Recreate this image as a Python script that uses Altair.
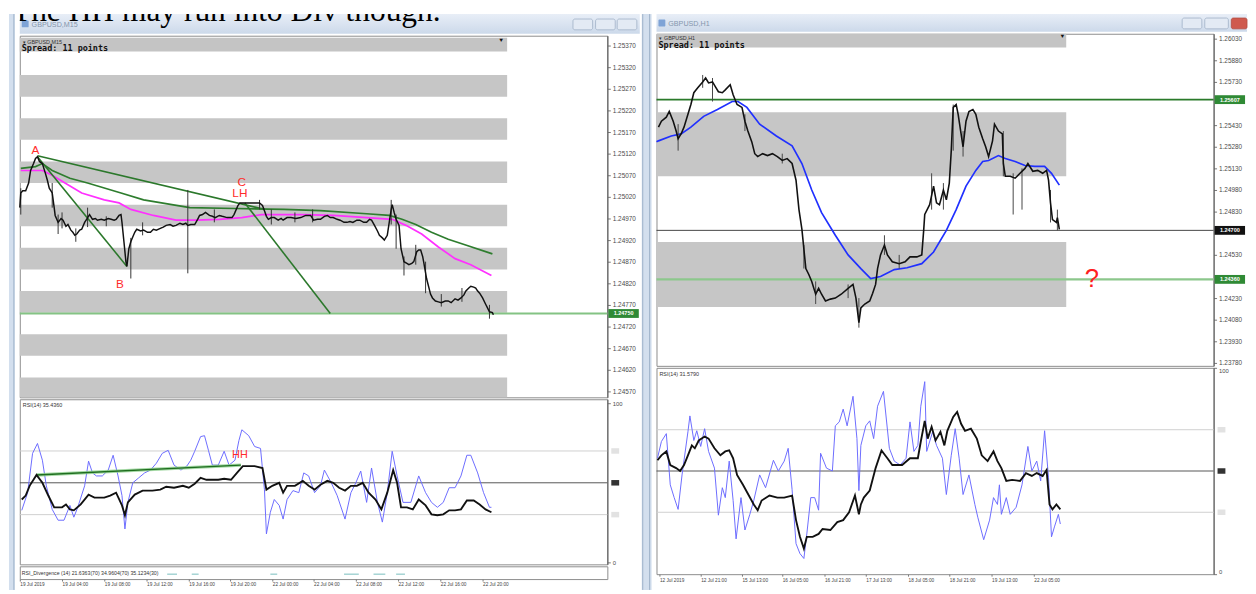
import json
import altair as alt
import pandas as pd

# ---------------------------------------------------------------- data
HEADING = "The HH may run into Div though."
LEFT_TITLE = "GBPUSD,M15"
RIGHT_TITLE = "GBPUSD,H1"
LEFT_SYMBOL = "\u25be GBPUSD,M15"
RIGHT_SYMBOL = "\u25be GBPUSD,H1"
SPREAD = "Spread: 11 points"
LEFT_RSI_NAME = "RSI(14) 35.4360"
RIGHT_RSI_NAME = "RSI(14) 31.5790"
IND_NAME = "RSI_Divergence (14) 21.6363(70) 34.9604(70) 35.1234(30)"

left_dates = ["19 Jul 2019", "19 Jul 04:00", "19 Jul 08:00", "19 Jul 12:00", "19 Jul 16:00",
              "19 Jul 20:00", "22 Jul 00:00", "22 Jul 04:00", "22 Jul 08:00", "22 Jul 12:00",
              "22 Jul 16:00", "22 Jul 20:00"]
left_date_bars = [0, 43, 86, 129, 172, 214, 257, 299, 342, 385, 428, 471]
right_dates = ["12 Jul 2019", "12 Jul 21:00", "15 Jul 13:00", "16 Jul 05:00", "16 Jul 21:00",
               "17 Jul 13:00", "18 Jul 05:00", "18 Jul 21:00", "19 Jul 13:00", "22 Jul 05:00"]
right_date_bars = [3, 45, 87, 128, 171, 213, 256, 298, 341, 384]

left_price_ticks = [1.25370, 1.25320, 1.25270, 1.25220, 1.25170, 1.25120, 1.25070, 1.25020,
                    1.24970, 1.24920, 1.24870, 1.24820, 1.24770, 1.24720, 1.24670, 1.24620, 1.24570]
# ticks hidden behind the coloured price boxes are left out
right_price_ticks = [1.26030, 1.25880, 1.25730, 1.25430, 1.25280, 1.25130, 1.24980,
                     1.24830, 1.24530, 1.24230, 1.24080, 1.23930, 1.23780]
rsi_ticks = [0, 100]
rsi_levels_light = [30, 70]
rsi_level_mid = [50]

# left M15 close path (bar index, price)
left_close = [(0, 1.24995), (1, 1.25029), (3, 1.25034), (6, 1.25034), (9, 1.25052), (11, 1.25081),
              (14, 1.25097), (16, 1.25109), (18, 1.25113), (20, 1.25102), (23, 1.25097), (26, 1.25075),
              (28, 1.25059), (30, 1.25040), (33, 1.25029), (35, 1.24995), (36, 1.24977), (39, 1.24961),
              (42, 1.24970), (44, 1.24966), (47, 1.24952), (49, 1.24956), (52, 1.24943), (54, 1.24938),
              (56, 1.24931), (58, 1.24934), (61, 1.24943), (63, 1.24945), (66, 1.24961), (68, 1.24968),
              (71, 1.24979), (74, 1.24968), (77, 1.24970), (79, 1.24966), (83, 1.24968), (86, 1.24966),
              (90, 1.24970), (93, 1.24968), (96, 1.24966), (98, 1.24968), (101, 1.24977), (103, 1.24979),
              (104, 1.24961), (106, 1.24916), (108, 1.24870), (109, 1.24859), (111, 1.24900), (113, 1.24916),
              (114, 1.24922), (117, 1.24938), (119, 1.24945), (123, 1.24941), (126, 1.24943), (130, 1.24938),
              (133, 1.24938), (136, 1.24945), (139, 1.24943), (143, 1.24947), (146, 1.24950), (149, 1.24954),
              (153, 1.24956), (156, 1.24952), (159, 1.24954), (163, 1.24959), (166, 1.24956), (169, 1.24959),
              (171, 1.24954), (174, 1.24956), (178, 1.24956), (181, 1.24968), (183, 1.24977), (186, 1.24979),
              (189, 1.24984), (193, 1.24977), (196, 1.24975), (199, 1.24972), (203, 1.24977), (206, 1.24975),
              (211, 1.24972), (216, 1.24972), (218, 1.24979), (219, 1.24984), (222, 1.25000), (224, 1.25006),
              (229, 1.25006), (236, 1.25006), (244, 1.25006), (247, 1.25000), (249, 1.24988), (251, 1.24975),
              (253, 1.24968), (256, 1.24972), (259, 1.24972), (263, 1.24966), (266, 1.24970), (268, 1.24966),
              (272, 1.24972), (276, 1.24972), (281, 1.24970), (286, 1.24972), (291, 1.24977), (296, 1.24977),
              (299, 1.24966), (303, 1.24968), (306, 1.24968), (310, 1.24975), (313, 1.24977), (316, 1.24972),
              (319, 1.24972), (323, 1.24968), (326, 1.24966), (330, 1.24961), (333, 1.24961), (336, 1.24963),
              (339, 1.24961), (343, 1.24966), (346, 1.24966), (350, 1.24961), (353, 1.24961), (356, 1.24968),
              (358, 1.24966), (361, 1.24954), (364, 1.24941), (366, 1.24931), (369, 1.24925), (371, 1.24920),
              (374, 1.24931), (376, 1.24961), (378, 1.24991), (379, 1.25002), (381, 1.24984), (383, 1.24968),
              (386, 1.24954), (388, 1.24900), (391, 1.24870), (394, 1.24866), (396, 1.24863), (399, 1.24866),
              (401, 1.24870), (404, 1.24893), (406, 1.24897), (408, 1.24897), (410, 1.24882), (411, 1.24870),
              (414, 1.24831), (416, 1.24813), (418, 1.24795), (420, 1.24786), (423, 1.24779), (426, 1.24777),
              (429, 1.24775), (433, 1.24779), (436, 1.24779), (439, 1.24775), (443, 1.24784), (446, 1.24781),
              (449, 1.24786), (452, 1.24793), (454, 1.24802), (457, 1.24809), (459, 1.24813), (462, 1.24811),
              (464, 1.24809), (466, 1.24802), (468, 1.24797), (471, 1.24786), (474, 1.24772), (476, 1.24763),
              (478, 1.24754), (481, 1.24752), (482, 1.24747)]

left_wicks = [(1, 1.25040, 1.24979), (33, 1.25052, 1.24995), (39, 1.24979, 1.24934), (43, 1.24984, 1.24947),
              (57, 1.24947, 1.24916), (69, 1.24995, 1.24950), (88, 1.24975, 1.24952), (113, 1.24925, 1.24831),
              (125, 1.24961, 1.24931), (171, 1.25036, 1.24843), (198, 1.24991, 1.24961), (244, 1.25013, 1.24991),
              (256, 1.24991, 1.24956), (280, 1.24984, 1.24961), (298, 1.24991, 1.24961), (378, 1.25013, 1.24956),
              (383, 1.24979, 1.24900), (391, 1.24882, 1.24838), (403, 1.24909, 1.24863), (413, 1.24870, 1.24797),
              (429, 1.24795, 1.24766), (450, 1.24809, 1.24777), (478, 1.24770, 1.24738)]

left_ma_green = [(1, 1.25086), (16, 1.25090), (23, 1.25097), (33, 1.25081), (51, 1.25063), (69, 1.25052),
                 (103, 1.25029), (126, 1.25013), (173, 1.24995), (219, 1.24993), (269, 1.24991), (306, 1.24988),
                 (353, 1.24981), (376, 1.24977), (389, 1.24968), (403, 1.24956), (419, 1.24938), (436, 1.24922),
                 (453, 1.24909), (481, 1.24888)]
left_ma_magenta = [(1, 1.25081), (23, 1.25081), (33, 1.25070), (46, 1.25052), (63, 1.25029), (86, 1.25013),
                   (101, 1.25006), (113, 1.24991), (136, 1.24977), (159, 1.24966), (179, 1.24966), (203, 1.24968),
                   (226, 1.24972), (246, 1.24979), (269, 1.24979), (286, 1.24979), (319, 1.24977), (353, 1.24972),
                   (379, 1.24968), (393, 1.24954), (409, 1.24934), (426, 1.24904), (443, 1.24877), (459, 1.24863),
                   (480, 1.24838)]
left_trendlines = [("AB", 18, 1.25113), ("AB", 109, 1.24859),
                   ("AC", 18, 1.25115), ("AC", 249, 1.24991),
                   ("C_down", 229, 1.25006), ("C_down", 316, 1.24750)]
left_level = [1.24750]
left_level_label = ["1.24750"]
left_band_top = [1.25302, 1.25202, 1.25102, 1.25002, 1.24902, 1.24802, 1.24702, 1.24602]
left_band_bottom = [1.25252, 1.25152, 1.25052, 1.24952, 1.24852, 1.24752, 1.24652, 1.24556]
left_band_bars = [0, 496]
left_points = [("A", 16, 1.25129), ("B", 102, 1.24818), ("C", 226, 1.25054), ("LH", 224, 1.25029)]

left_rsi = [(2, 39.5), (6, 42.0), (10, 48.1), (17, 54.9), (23, 50.0), (29, 42.0), (35, 34.6), (43, 34.6),
            (47, 36.4), (51, 33.3), (55, 32.7), (62, 36.4), (70, 42.6), (76, 40.7), (86, 40.7), (92, 42.0),
            (98, 43.8), (104, 35.8), (107, 29.6), (110, 37.7), (117, 42.6), (125, 45.1), (135, 45.1),
            (143, 45.7), (149, 47.5), (157, 46.9), (166, 48.1), (172, 46.9), (178, 49.4), (184, 53.1),
            (190, 51.9), (196, 51.9), (202, 51.9), (208, 52.5), (215, 51.9), (221, 56.2), (227, 60.5),
            (239, 60.5), (247, 59.3), (251, 45.7), (257, 48.1), (264, 50.0), (268, 43.8), (272, 48.1),
            (280, 48.1), (288, 51.2), (294, 48.1), (300, 45.7), (306, 48.8), (313, 51.2), (319, 50.0),
            (325, 46.9), (331, 45.1), (337, 48.1), (343, 48.1), (349, 50.0), (355, 43.8), (362, 39.5),
            (368, 33.3), (374, 43.8), (380, 58.0), (384, 50.0), (388, 34.6), (394, 34.6), (400, 33.3),
            (406, 39.5), (413, 35.8), (419, 30.2), (425, 29.6), (431, 30.2), (437, 32.7), (443, 32.7),
            (449, 33.3), (455, 38.9), (462, 38.9), (468, 36.4), (474, 33.3), (480, 31.5)]
left_rsi_fast = [(2, 32.7), (8, 43.8), (13, 68.5), (18, 74.7), (23, 64.2), (27, 48.1), (33, 33.3), (39, 26.5),
                 (45, 26.5), (51, 35.8), (55, 28.4), (59, 34.6), (66, 48.1), (70, 63.6), (74, 56.2), (78, 54.3),
                 (84, 54.3), (90, 58.0), (95, 67.3), (100, 54.3), (104, 42.0), (107, 21.0), (110, 37.7),
                 (115, 50.0), (121, 53.1), (127, 56.2), (133, 58.0), (139, 62.3), (145, 68.5), (151, 70.4),
                 (157, 61.1), (164, 58.0), (170, 60.5), (174, 64.2), (178, 69.8), (184, 79.0), (188, 79.6),
                 (192, 70.4), (196, 61.1), (202, 61.1), (208, 69.8), (213, 61.1), (219, 64.2), (223, 76.5),
                 (226, 83.3), (233, 79.6), (239, 72.8), (245, 71.6), (249, 45.7), (251, 17.9), (255, 31.5),
                 (259, 39.5), (264, 35.8), (268, 27.2), (272, 39.5), (278, 45.1), (284, 43.8), (289, 56.2),
                 (294, 54.3), (300, 43.8), (306, 48.1), (310, 58.0), (317, 50.0), (323, 42.0), (331, 27.2),
                 (337, 43.8), (342, 50.0), (347, 57.4), (353, 37.7), (358, 59.3), (364, 37.7), (369, 25.3),
                 (374, 43.8), (379, 69.8), (384, 54.3), (390, 37.7), (398, 37.7), (406, 54.3), (413, 43.8),
                 (419, 37.7), (425, 34.6), (431, 37.7), (437, 46.9), (443, 46.9), (449, 54.3), (455, 67.3),
                 (459, 67.3), (466, 56.2), (472, 43.8), (478, 34.6), (480, 34.6)]
left_hh_line = [(17, 54.9), (225, 61.1)]
left_hh_label = [("HH", 224, 67.3)]
left_ind_segments = [(150, 160), (175, 182), (255, 262), (330, 345), (360, 372), (383, 392)]

# right H1
right_close = [(2, 1.25416), (5, 1.25457), (10, 1.25485), (13, 1.25525), (17, 1.25457), (20, 1.25389),
               (22, 1.25335), (25, 1.25369), (28, 1.25416), (32, 1.25505), (35, 1.25573), (38, 1.25655),
               (42, 1.25689), (47, 1.25730), (50, 1.25757), (53, 1.25723), (57, 1.25730), (60, 1.25696),
               (63, 1.25662), (67, 1.25655), (70, 1.25675), (75, 1.25710), (78, 1.25641), (82, 1.25573),
               (87, 1.25553), (90, 1.25457), (93, 1.25389), (97, 1.25314), (100, 1.25232), (103, 1.25212),
               (108, 1.25232), (113, 1.25219), (118, 1.25232), (123, 1.25212), (128, 1.25185), (133, 1.25198),
               (138, 1.25164), (142, 1.25048), (145, 1.24844), (148, 1.24707), (150, 1.24571), (152, 1.24435),
               (155, 1.24394), (158, 1.24346), (162, 1.24257), (165, 1.24298), (168, 1.24257), (172, 1.24210),
               (177, 1.24223), (182, 1.24230), (188, 1.24257), (195, 1.24298), (200, 1.24325), (203, 1.24230),
               (206, 1.24060), (208, 1.24162), (212, 1.24189), (217, 1.24210), (220, 1.24264), (223, 1.24325),
               (225, 1.24435), (228, 1.24530), (232, 1.24598), (235, 1.24530), (240, 1.24482), (247, 1.24469),
               (253, 1.24482), (258, 1.24516), (265, 1.24516), (270, 1.24530), (272, 1.24707), (273, 1.24810),
               (278, 1.24878), (282, 1.25007), (285, 1.24891), (288, 1.24878), (292, 1.24980), (295, 1.24912),
               (298, 1.25028), (300, 1.25253), (302, 1.25553), (305, 1.25573), (307, 1.25505), (310, 1.25369),
               (312, 1.25280), (315, 1.25457), (318, 1.25525), (322, 1.25539), (325, 1.25505), (328, 1.25416),
               (332, 1.25335), (335, 1.25280), (338, 1.25212), (342, 1.25321), (344, 1.25437), (348, 1.25389),
               (352, 1.25369), (353, 1.25164), (355, 1.25075), (360, 1.25075), (365, 1.25062), (370, 1.25096),
               (375, 1.25130), (378, 1.25164), (383, 1.25110), (388, 1.25116), (393, 1.25096), (397, 1.25116),
               (399, 1.25048), (401, 1.24891), (403, 1.24775), (407, 1.24755), (408, 1.24789), (410, 1.24707)]
right_wicks = [(22, 1.25437, 1.25253), (47, 1.25778, 1.25689), (57, 1.25757, 1.25594), (90, 1.25505, 1.25389),
               (128, 1.25232, 1.25164), (150, 1.24598, 1.24435), (162, 1.24346, 1.24189), (195, 1.24325, 1.24230),
               (206, 1.24230, 1.24025), (232, 1.24666, 1.24530), (247, 1.24530, 1.24435), (280, 1.25096, 1.24844),
               (292, 1.25028, 1.24844), (302, 1.25573, 1.25253), (312, 1.25389, 1.25212), (353, 1.25389, 1.25075),
               (363, 1.25096, 1.24810), (372, 1.25130, 1.24844), (401, 1.24980, 1.24755), (408, 1.24844, 1.24700)]
right_ma_blue = [(0, 1.25314), (2, 1.25321), (15, 1.25355), (25, 1.25369), (35, 1.25416), (48, 1.25491),
                 (62, 1.25539), (77, 1.25594), (83, 1.25594), (92, 1.25553), (105, 1.25437), (122, 1.25355),
                 (138, 1.25287), (148, 1.25164), (158, 1.24980), (168, 1.24823), (182, 1.24666), (195, 1.24530),
                 (208, 1.24435), (218, 1.24366), (228, 1.24380), (242, 1.24428), (255, 1.24441), (270, 1.24469),
                 (282, 1.24550), (295, 1.24700), (305, 1.24844), (315, 1.25007), (325, 1.25116), (332, 1.25178),
                 (338, 1.25185), (348, 1.25219), (355, 1.25198), (365, 1.25178), (375, 1.25150), (385, 1.25144),
                 (395, 1.25144), (402, 1.25096), (410, 1.25014)]
right_band_top = [1.25519, 1.24619]
right_band_bottom = [1.25075, 1.24169]
right_band_bars = [0, 417]
right_resistance = [1.25607]
right_current = [1.24700]
right_support = [1.24360]
right_box_prices = [1.25607, 1.24700, 1.24360]
right_box_labels = ["1.25607", "1.24700", "1.24360"]
right_box_kind = ["green", "black", "green"]
right_question = [("?", 443, 1.24360)]

right_rsi = [(1, 55.2), (5, 57.6), (10, 59.5), (14, 52.9), (20, 51.4), (24, 50.0), (28, 52.9), (32, 57.6),
             (36, 62.4), (39, 61.0), (43, 64.8), (49, 66.7), (53, 65.7), (59, 61.0), (65, 57.6), (70, 59.5),
             (74, 60.0), (78, 56.2), (82, 48.1), (88, 43.3), (94, 38.1), (99, 33.8), (103, 31.0), (107, 35.7),
             (115, 38.1), (123, 37.1), (130, 37.1), (138, 38.1), (142, 26.2), (146, 18.1), (150, 12.4),
             (153, 18.1), (159, 18.1), (165, 19.5), (169, 21.9), (177, 21.4), (184, 25.2), (190, 26.2),
             (196, 30.0), (202, 38.1), (206, 29.0), (208, 33.8), (211, 37.1), (217, 40.5), (223, 51.4),
             (229, 60.0), (235, 56.2), (240, 52.9), (250, 52.9), (258, 56.2), (266, 56.2), (269, 64.3),
             (273, 74.3), (276, 65.7), (280, 71.4), (284, 64.8), (289, 69.0), (293, 62.4), (296, 69.5),
             (302, 76.2), (306, 78.6), (310, 72.9), (314, 69.5), (320, 70.5), (326, 65.7), (331, 57.6),
             (337, 54.8), (343, 59.5), (347, 54.8), (351, 51.4), (356, 45.2), (362, 45.7), (370, 45.2),
             (376, 49.0), (382, 47.6), (387, 49.0), (393, 47.6), (397, 50.5), (400, 33.8), (403, 31.4),
             (407, 33.8), (411, 31.4)]
right_rsi_fast = [(1, 56.2), (5, 64.3), (10, 68.1), (14, 43.3), (18, 37.1), (22, 31.4), (26, 48.1), (32, 69.0),
                  (34, 76.7), (38, 64.8), (41, 69.5), (45, 61.9), (49, 70.5), (53, 59.5), (59, 51.4), (63, 28.6),
                  (67, 41.9), (70, 37.1), (74, 54.8), (78, 35.7), (81, 17.1), (86, 37.1), (90, 21.4), (95, 29.0),
                  (99, 35.7), (105, 48.1), (111, 41.9), (119, 55.2), (124, 50.0), (130, 54.8), (134, 61.0),
                  (138, 41.0), (142, 14.8), (146, 10.0), (150, 7.6), (153, 19.5), (157, 37.1), (161, 37.1),
                  (165, 31.0), (167, 58.6), (173, 51.4), (179, 50.0), (182, 71.9), (186, 73.8), (190, 80.0),
                  (194, 71.9), (200, 86.2), (204, 65.7), (206, 40.5), (208, 62.4), (213, 71.9), (217, 74.3),
                  (221, 65.7), (225, 81.4), (231, 88.6), (237, 61.0), (242, 54.8), (248, 52.9), (254, 56.2),
                  (258, 73.8), (262, 59.5), (266, 62.4), (269, 81.4), (273, 93.3), (275, 59.5), (281, 69.0),
                  (285, 62.4), (291, 56.2), (295, 38.6), (300, 57.6), (304, 70.5), (308, 56.2), (312, 38.6),
                  (318, 48.1), (324, 33.8), (327, 27.6), (333, 16.7), (339, 26.2), (343, 37.1), (347, 33.8),
                  (349, 43.3), (351, 29.0), (356, 37.1), (360, 29.0), (366, 32.4), (372, 43.3), (378, 61.9),
                  (382, 50.0), (387, 54.8), (391, 45.2), (395, 69.5), (399, 46.7), (402, 18.1), (405, 22.9),
                  (409, 29.0), (411, 24.3)]

# ---------------------------------------------------------------- layout / style
LW, RW = 598, 567
LP_H, LR_H, LI_H, LT_H = 368, 168, 13, 20
RP_H, RR_H, RT_H = 338, 210, 18
FRAME_H = 586
PANE_STROKE = "#8c8c8c"
FRAME_FILL = "#d3dfee"
FRAME_LINE = "#9cb0c8"
LABEL_FONT = "Liberation Sans"
BOX_WIDE = "M-1,-0.29H1V0.29H-1Z"
BOX_SMALL = "M-1,-0.7H1V0.7H-1Z"
title_gradient = alt.LinearGradient(gradient="linear",
                                    stops=[alt.GradientStop(color="#e8eef7", offset=0),
                                           alt.GradientStop(color="#ccd9ea", offset=1)],
                                    x1=0, x2=0, y1=0, y2=1)


def price_axis(ticks):
    return alt.Axis(orient="right", values=ticks, format=".5f", labelFontSize=6.5, labelFont=LABEL_FONT,
                    labelColor="#4a4a4a", tickSize=3, tickColor="#777777", domainColor="#555555",
                    grid=False, title=None, labelPadding=2, labelOverlap=False, labelFlush=False)


def rsi_axis():
    return alt.Axis(orient="right", values=rsi_ticks, format="d", labelFontSize=6, labelFont=LABEL_FONT,
                    labelColor="#4a4a4a", tickSize=3, tickColor="#777777", domainColor="#555555",
                    grid=False, title=None, labelPadding=2, labelOverlap=False, labelFlush=True)


def date_axis(pos, labels):
    expr = json.dumps(labels) + "[indexof(" + json.dumps(pos) + ", datum.value)]"
    return alt.Axis(values=pos, labelExpr=expr, orient="bottom", labelAlign="left", labelBaseline="top",
                    labelFontSize=4.8, labelFont=LABEL_FONT, labelColor="#444444", tickSize=2,
                    tickColor="#777777", labelPadding=1, domain=False, grid=False, title=None,
                    labelOverlap=False, labelFlush=False, labelBound=False)


def make_x(width, axis=None):
    sc = alt.Scale(domain=[0, width], nice=False, zero=False)
    return lambda f: alt.X(f, type="quantitative", scale=sc, axis=axis, title=None)


def make_y(domain, axis):
    sc = alt.Scale(domain=domain, nice=False, zero=False)
    return lambda f: alt.Y(f, type="quantitative", scale=sc, axis=axis, title=None)


def pairs(rows, cols):
    return pd.DataFrame(rows, columns=cols)


def frame_unit(width, height, line_positions):
    base = alt.Chart(pd.DataFrame({"k": [0]}))
    layers = [base.mark_rect(color=FRAME_FILL).encode(x=alt.value(0), x2=alt.value(width),
                                                      y=alt.value(0), y2=alt.value(height))]
    for lx in line_positions:
        layers.append(base.mark_rule(color=FRAME_LINE, strokeWidth=1)
                      .encode(x=alt.value(lx), y=alt.value(0), y2=alt.value(height)))
    return alt.layer(*layers).properties(width=width, height=height,
                                         view=alt.ViewBackground(stroke="transparent"))


def title_bar(width, height, title, buttons, with_heading):
    base = alt.Chart(pd.DataFrame({"t": [title], "h": [HEADING]}))
    layers = [
        base.mark_rect(color=title_gradient).encode(x=alt.value(0), x2=alt.value(width),
                                                    y=alt.value(0), y2=alt.value(height)),
        base.mark_rect(color="#7ea3d6", cornerRadius=1).encode(x=alt.value(2), x2=alt.value(9),
                                                               y=alt.value(height / 2 - 3.5),
                                                               y2=alt.value(height / 2 + 3.5)),
        base.mark_text(align="left", baseline="middle", font=LABEL_FONT, fontSize=7.3,
                       color="#8596ad").encode(x=alt.value(12), y=alt.value(height / 2 + 1), text="t:N"),
    ]
    for i, (x0, x1) in enumerate(buttons):
        last = (i == len(buttons) - 1) and not with_heading
        layers.append(base.mark_rect(color="#cf5a4e" if last else "#e3eaf4",
                                     stroke="#b24a40" if last else "#9fb0c6",
                                     strokeWidth=0.8, cornerRadius=2)
                      .encode(x=alt.value(x0), x2=alt.value(x1), y=alt.value(height / 2 - 5),
                              y2=alt.value(height / 2 + 6)))
    if with_heading:
        layers.append(base.mark_text(align="left", baseline="alphabetic", font="Liberation Serif",
                                     fontSize=32, color="black", clip=True)
                      .encode(x=alt.value(-8), y=alt.value(7), text="h:N"))
    return alt.layer(*layers).properties(width=width, height=height,
                                         view=alt.ViewBackground(stroke="transparent", fill="white"))


def header_layers(strip_x1, y0, y1, symbol, tri_x):
    base = alt.Chart(pd.DataFrame({"s": [symbol], "p": [SPREAD], "tri": ["\u25bc"]}))
    return [
        base.mark_rect(color="#c4c4c4").encode(x=alt.value(0), x2=alt.value(strip_x1),
                                               y=alt.value(y0), y2=alt.value(y1)),
        base.mark_text(align="left", baseline="middle", font=LABEL_FONT, fontSize=5.5,
                       color="#333333").encode(x=alt.value(3), y=alt.value(y0 + 4), text="s:N"),
        base.mark_text(align="left", baseline="middle", font="DejaVu Sans Mono", fontSize=8.6,
                       fontWeight="bold", color="#111111").encode(x=alt.value(2), y=alt.value(y0 + 11),
                                                                  text="p:N"),
        base.mark_text(align="center", baseline="middle", fontSize=6, color="#111111")
        .encode(x=alt.value(tri_x), y=alt.value(y0 + 2), text="tri:N"),
    ]


def axis_boxes(df, y, x_center, path, size, fill_field_map, with_text=True):
    layers = []
    for kind, color in fill_field_map.items():
        sub = df[df["kind"] == kind]
        if len(sub) == 0:
            continue
        layers.append(alt.Chart(sub).mark_point(shape=path, size=size, filled=True, opacity=1,
                                                color=color, strokeWidth=0)
                      .encode(x=alt.value(x_center), y=y("p")))
    if with_text:
        layers.append(alt.Chart(df).mark_text(align="center", baseline="middle", font=LABEL_FONT,
                                              fontSize=5.6, color="white", fontWeight="bold")
                      .encode(x=alt.value(x_center), y=y("p"), text="label:N"))
    return layers


# ---------------------------------------------------------------- left window
xL = make_x(LW)
yLP = make_y([1.24556, 1.25393], price_axis(left_price_ticks))

df_lbands = pd.DataFrame({"top": left_band_top, "bottom": left_band_bottom,
                          "x0": [left_band_bars[0]] * len(left_band_top),
                          "x1": [left_band_bars[1]] * len(left_band_top)})
df_lclose = pairs(left_close, ["bar", "v"])
df_lwicks = pairs(left_wicks, ["bar", "hi", "lo"])
df_lgreen = pairs(left_ma_green, ["bar", "v"])
df_lmag = pairs(left_ma_magenta, ["bar", "v"])
df_ltrend = pairs(left_trendlines, ["seg", "bar", "v"])
df_llevel = pd.DataFrame({"p": left_level, "label": left_level_label, "kind": ["green"]})
df_lpts = pairs(left_points, ["t", "bar", "v"])

price_left = alt.layer(
    alt.Chart(df_lbands).mark_rect(color="#c6c6c6").encode(x=xL("x0"), x2="x1", y=yLP("top"), y2="bottom"),
    *header_layers(496, 2, 16, LEFT_SYMBOL, 490),
    alt.Chart(df_llevel).mark_rule(color="#84c384", strokeWidth=2.2).encode(y=yLP("p")),
    alt.Chart(df_lmag).mark_line(color="#ff30ff", strokeWidth=1.7).encode(x=xL("bar"), y=yLP("v")),
    alt.Chart(df_lgreen).mark_line(color="#2e7d2e", strokeWidth=1.7).encode(x=xL("bar"), y=yLP("v")),
    alt.Chart(df_ltrend).mark_line(color="#2b782b", strokeWidth=1.6).encode(x=xL("bar"), y=yLP("v"),
                                                                            detail="seg:N"),
    alt.Chart(df_lwicks).mark_rule(color="#333333", strokeWidth=1).encode(x=xL("bar"), y=yLP("hi"), y2="lo"),
    alt.Chart(df_lclose).mark_line(color="#111111", strokeWidth=1.5).encode(x=xL("bar"), y=yLP("v")),
    alt.Chart(df_lpts).mark_text(color="#ff2b2b", font=LABEL_FONT, fontSize=12, baseline="middle")
    .encode(x=xL("bar"), y=yLP("v"), text="t:N"),
    *axis_boxes(df_llevel, yLP, LW + 16.5, BOX_WIDE, 961, {"green": "#2f8a35"}),
).properties(width=LW, height=LP_H)

yLR = make_y([-1.23, 102.47], rsi_axis())
df_lrsi = pairs(left_rsi, ["bar", "v"])
df_lrsif = pairs(left_rsi_fast, ["bar", "v"])
df_lhh = pairs(left_hh_line, ["bar", "v"])
df_lhhl = pairs(left_hh_label, ["t", "bar", "v"])
df_lvl_light = pd.DataFrame({"p": rsi_levels_light, "kind": ["light"] * len(rsi_levels_light),
                             "label": [str(v) for v in rsi_levels_light]})
df_lvl_mid = pd.DataFrame({"p": rsi_level_mid, "kind": ["dark"], "label": [str(v) for v in rsi_level_mid]})
df_lvl_all = pd.concat([df_lvl_light, df_lvl_mid], ignore_index=True)
df_rsi_name_l = pd.DataFrame({"n": [LEFT_RSI_NAME]})


def rsi_level_layers(y, width):
    return [
        alt.Chart(df_lvl_light).mark_rule(color="#cfcfcf", strokeWidth=1).encode(y=y("p")),
        alt.Chart(df_lvl_mid).mark_rule(color="#555555", strokeWidth=1).encode(y=y("p")),
        *axis_boxes(df_lvl_all, y, width + 8, BOX_SMALL, 64, {"light": "#e2e2e2", "dark": "#333333"},
                    with_text=False),
    ]


rsi_left = alt.layer(
    *rsi_level_layers(yLR, LW),
    alt.Chart(df_lrsif).mark_line(color="#6b6bff", strokeWidth=1).encode(x=xL("bar"), y=yLR("v")),
    alt.Chart(df_lhh).mark_line(color="#8fd08f", strokeWidth=3.5, opacity=0.8).encode(x=xL("bar"), y=yLR("v")),
    alt.Chart(df_lhh).mark_line(color="#1f6e1f", strokeWidth=1.4).encode(x=xL("bar"), y=yLR("v")),
    alt.Chart(df_lrsi).mark_line(color="#111111", strokeWidth=1.9).encode(x=xL("bar"), y=yLR("v")),
    alt.Chart(df_lhhl).mark_text(color="#ff2b2b", font=LABEL_FONT, fontSize=11, baseline="middle")
    .encode(x=xL("bar"), y=yLR("v"), text="t:N"),
    alt.Chart(df_rsi_name_l).mark_text(align="left", baseline="middle", font=LABEL_FONT, fontSize=5.5,
                                       color="#333333").encode(x=alt.value(3), y=alt.value(6), text="n:N"),
).properties(width=LW, height=LR_H)

xLI = make_x(LW, date_axis(left_date_bars, left_dates))
df_ind = pairs(left_ind_segments, ["x0", "x1"])
ind_left = alt.layer(
    alt.Chart(df_ind).mark_rule(color="#8cc8c8", strokeWidth=1.2).encode(x=xLI("x0"), x2="x1", y=alt.value(8)),
    alt.Chart(pd.DataFrame({"n": [IND_NAME]})).mark_text(align="left", baseline="middle", font=LABEL_FONT,
                                                         fontSize=5.3, color="#333333")
    .encode(x=alt.value(2), y=alt.value(6.5), text="n:N"),
).properties(width=LW, height=LI_H)

left_col = alt.vconcat(
    title_bar(631, LT_H, LEFT_TITLE, [(563, 583), (586, 606), (608, 628)], True),
    price_left, rsi_left, ind_left, spacing=2, bounds="flush")

# ---------------------------------------------------------------- right window
xR = make_x(RW)
yRP = make_y([1.23760, 1.26064], price_axis(right_price_ticks))
df_rbands = pd.DataFrame({"top": right_band_top, "bottom": right_band_bottom,
                          "x0": [right_band_bars[0]] * len(right_band_top),
                          "x1": [right_band_bars[1]] * len(right_band_top)})
df_rclose = pairs(right_close, ["bar", "v"])
df_rwicks = pairs(right_wicks, ["bar", "hi", "lo"])
df_rblue = pairs(right_ma_blue, ["bar", "v"])
df_rboxes = pd.DataFrame({"p": right_box_prices, "label": right_box_labels, "kind": right_box_kind})
df_rq = pairs(right_question, ["t", "bar", "v"])

price_right = alt.layer(
    alt.Chart(df_rbands).mark_rect(color="#c6c6c6").encode(x=xR("x0"), x2="x1", y=yRP("top"), y2="bottom"),
    *header_layers(417, 0, 14, RIGHT_SYMBOL, 413),
    alt.Chart(pd.DataFrame({"p": right_resistance})).mark_rule(color="#2a7a2a", strokeWidth=1.6)
    .encode(y=yRP("p")),
    alt.Chart(pd.DataFrame({"p": right_current})).mark_rule(color="#444444", strokeWidth=1).encode(y=yRP("p")),
    alt.Chart(pd.DataFrame({"p": right_support})).mark_rule(color="#8cc78c", strokeWidth=2.4).encode(y=yRP("p")),
    alt.Chart(df_rblue).mark_line(color="#2030ff", strokeWidth=1.7).encode(x=xR("bar"), y=yRP("v")),
    alt.Chart(df_rwicks).mark_rule(color="#444444", strokeWidth=1).encode(x=xR("bar"), y=yRP("hi"), y2="lo"),
    alt.Chart(df_rclose).mark_line(color="#111111", strokeWidth=1.6).encode(x=xR("bar"), y=yRP("v")),
    alt.Chart(df_rq).mark_text(color="#ff2020", font=LABEL_FONT, fontSize=26, baseline="middle")
    .encode(x=xR("bar"), y=yRP("v"), text="t:N"),
    *axis_boxes(df_rboxes, yRP, RW + 16.5, BOX_WIDE, 961, {"green": "#2f8a35", "black": "#111111"}),
).properties(width=RW, height=RP_H)

xRR = make_x(RW, date_axis(right_date_bars, right_dates))
yRR = make_y([0, 100], rsi_axis())
df_rrsi = pairs(right_rsi, ["bar", "v"])
df_rrsif = pairs(right_rsi_fast, ["bar", "v"])
rsi_right = alt.layer(
    *rsi_level_layers(yRR, RW),
    alt.Chart(df_rrsif).mark_line(color="#6b6bff", strokeWidth=1).encode(x=xRR("bar"), y=yRR("v")),
    alt.Chart(df_rrsi).mark_line(color="#111111", strokeWidth=1.9).encode(x=xRR("bar"), y=yRR("v")),
    alt.Chart(pd.DataFrame({"n": [RIGHT_RSI_NAME]})).mark_text(align="left", baseline="middle",
                                                               font=LABEL_FONT, fontSize=5.5, color="#333333")
    .encode(x=alt.value(3), y=alt.value(6), text="n:N"),
).properties(width=RW, height=RR_H)

right_col = alt.vconcat(
    title_bar(601, RT_H, RIGHT_TITLE, [(535, 555), (558, 582), (585, 601)], False),
    price_right, rsi_right, spacing=2, bounds="flush")

chart = (alt.hconcat(frame_unit(6, FRAME_H, [5]), left_col, frame_unit(10, FRAME_H, [1, 8]), right_col,
                     spacing=0)
         .properties(padding={"left": 0, "top": 0, "right": 0, "bottom": 0}, background="white")
         .configure_view(stroke=PANE_STROKE, strokeWidth=1, fill="white"))

chart.save("out.html", embed_options={"renderer": "svg", "actions": False})
